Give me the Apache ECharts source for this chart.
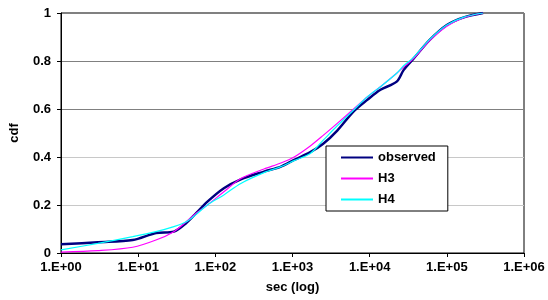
<!DOCTYPE html>
<html>
<head>
<meta charset="utf-8">
<script src="https://cdn.jsdelivr.net/npm/echarts@6/dist/echarts.min.js"></script>
<style>
  html, body { margin: 0; padding: 0; background: #fff; }
  #chart { width: 548px; height: 300px; }
</style>
</head>
<body>
<div id="chart"></div>
<script>
  // seconds (log axis) and cdf values
  var secs = [1, 3, 8.5, 17, 29, 42, 56, 79, 129, 214, 427, 708, 1050, 1700, 2500, 3800,
              6200, 9300, 13800, 22400, 27500, 37000, 60000, 100000, 166000, 295000];
  var observed = [0.036, 0.045, 0.054, 0.083, 0.089, 0.125, 0.165, 0.214, 0.27, 0.307, 0.339, 0.36, 0.388,
                  0.42, 0.455, 0.51, 0.59, 0.638, 0.68, 0.714, 0.762, 0.81, 0.888, 0.95, 0.982, 1.0];
  var h3 = [0.004, 0.01, 0.024, 0.054, 0.089, 0.13, 0.165, 0.2, 0.255, 0.31, 0.35, 0.375, 0.40,
            0.446, 0.49, 0.54, 0.60, 0.65, 0.693, 0.749, 0.775, 0.81, 0.885, 0.945, 0.98, 1.0];
  var h4 = [0.013, 0.04, 0.068, 0.089, 0.11, 0.13, 0.16, 0.2, 0.242, 0.29, 0.335, 0.36, 0.385,
            0.415, 0.47, 0.53, 0.596, 0.65, 0.693, 0.749, 0.78, 0.815, 0.89, 0.95, 0.983, 1.0];
  var seriesNames = ['observed', 'H3', 'H4'];

  var font = 'Liberation Sans, Arial, sans-serif';

  function pairs(ys) {
    return secs.map(function (s, i) { return [s, ys[i]]; });
  }

  var chart = echarts.init(document.getElementById('chart'));
  chart.setOption({
    animation: false,
    grid: {
      left: 60, right: 24, top: 13, bottom: 47,
      show: true, borderColor: '#000', borderWidth: 1
    },
    legend: {
      orient: 'vertical',
      left: 326, top: 146,
      padding: [5, 12, 5, 14],
      itemWidth: 32, itemHeight: 14, itemGap: 8,
      borderColor: '#000', borderWidth: 1,
      backgroundColor: '#fff',
      itemStyle: { opacity: 0, borderWidth: 0 },
      textStyle: { fontFamily: font, fontSize: 13, fontWeight: 'bold', color: '#000' },
      data: seriesNames
    },
    xAxis: {
      type: 'log',
      logBase: 10,
      min: 1, max: 1000000,
      name: 'sec (log)',
      nameLocation: 'middle',
      nameGap: 28,
      nameTextStyle: { fontFamily: font, fontSize: 13, fontWeight: 'bold', color: '#000' },
      axisLine: { lineStyle: { color: '#000', width: 1 } },
      axisTick: { show: true, inside: false, length: 4, lineStyle: { color: '#000' } },
      minorTick: { show: false },
      splitLine: { show: false },
      axisLabel: {
        margin: 8,
        fontFamily: font, fontSize: 13, fontWeight: 'bold', color: '#000',
        formatter: function (v) {
          var e = Math.round(Math.log10(v));
          return '1.E+' + (e < 10 ? '0' + e : e);
        }
      }
    },
    yAxis: {
      type: 'value',
      min: 0, max: 1, interval: 0.2,
      name: 'cdf',
      nameLocation: 'middle',
      nameGap: 40,
      nameTextStyle: { fontFamily: font, fontSize: 13, fontWeight: 'bold', color: '#000' },
      axisLine: { show: true, lineStyle: { color: '#000', width: 1 } },
      axisTick: { show: true, inside: false, length: 4, lineStyle: { color: '#000' } },
      splitLine: {
        show: true,
        lineStyle: { color: ['#808080', '#c8c8c8', '#c8c8c8', '#808080', '#808080', '#808080'], width: 1 }
      },
      axisLabel: {
        margin: 10,
        fontFamily: font, fontSize: 13, fontWeight: 'bold', color: '#000',
        formatter: function (v) { return v === 0 ? '0' : v === 1 ? '1' : v.toFixed(1); }
      }
    },
    series: [
      {
        name: 'observed', type: 'line', data: pairs(observed),
        symbol: 'none', smooth: 0.3,
        lineStyle: { color: '#000080', width: 2.5 },
        itemStyle: { color: '#000080' }
      },
      {
        name: 'H3', type: 'line', data: pairs(h3),
        symbol: 'none', smooth: 0.3,
        lineStyle: { color: '#ff00ff', width: 1.2 },
        itemStyle: { color: '#ff00ff' }
      },
      {
        name: 'H4', type: 'line', data: pairs(h4),
        symbol: 'none', smooth: 0.3,
        lineStyle: { color: '#00ffff', width: 1.2 },
        itemStyle: { color: '#00ffff' }
      }
    ]
  });
</script>
</body>
</html>
